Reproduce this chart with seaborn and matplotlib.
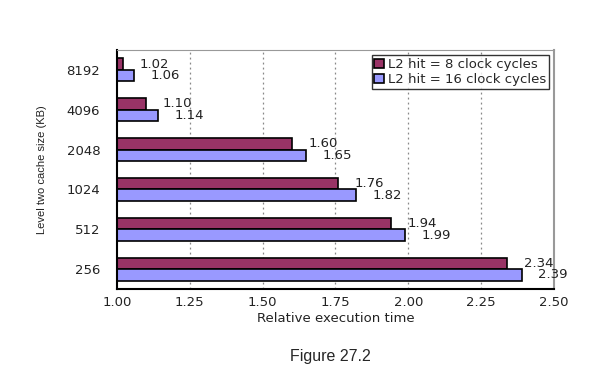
import pandas as pd
import matplotlib.pyplot as plt
import seaborn as sns

# data
cache_kb = ['8192', '4096', '2048', '1024', '512', '256']
hit_8 = [1.02, 1.10, 1.60, 1.76, 1.94, 2.34]
hit_16 = [1.06, 1.14, 1.65, 1.82, 1.99, 2.39]
series = ['L2 hit = 8 clock cycles', 'L2 hit = 16 clock cycles']
x_ticks = [1.00, 1.25, 1.50, 1.75, 2.00, 2.25, 2.50]

df = pd.DataFrame({
    'size': cache_kb * 2,
    'time': hit_8 + hit_16,
    'hit': [series[0]] * len(cache_kb) + [series[1]] * len(cache_kb),
})

sns.set_style('white')
plt.rcParams['font.family'] = ['DejaVu Sans']

fig = plt.figure(figsize=(6.12, 3.75), dpi=100)
ax = fig.add_axes([0.191, 0.229, 0.714, 0.638])

sns.barplot(data=df, x='time', y='size', hue='hit', order=cache_kb,
            hue_order=series, palette=['#993366', '#9999FF'], saturation=1,
            width=0.58, edgecolor='black', linewidth=1.2,
            orient='h', ax=ax)

for cont in ax.containers:
    ax.bar_label(cont, fmt='%.2f', padding=12, fontsize=9.5, color='#222222')

ax.set_xlim(1.0, 2.5)
ax.set_ylim(5.5, -0.5)
ax.set_xticks(x_ticks)
ax.set_xticklabels(['%.2f' % t for t in x_ticks], fontsize=9.5, color='#222222')
ax.tick_params(axis='x', direction='in', length=3, color='#555555', pad=5)
ax.set_yticks(range(len(cache_kb)))
ax.set_yticklabels(cache_kb, fontsize=9.5, color='#222222')
ax.tick_params(axis='y', which='major', length=0, pad=12)
ax.set_yticks([i - 0.5 for i in range(len(cache_kb) + 1)], minor=True)
ax.tick_params(axis='y', which='minor', length=7, color='#777777', width=1)

for t in x_ticks[1:-1]:
    ax.axvline(t, color='#888888', linestyle=(0, (1.5, 2.5)), linewidth=0.9, zorder=0)

ax.spines['left'].set_color('black')
ax.spines['left'].set_linewidth(1.5)
ax.spines['bottom'].set_color('black')
ax.spines['bottom'].set_linewidth(1.5)
ax.spines['top'].set_color('#999999')
ax.spines['right'].set_color('#999999')
ax.spines['right'].set_linewidth(1.5)

ax.set_xlabel('Relative execution time', fontsize=9.5, color='#222222', labelpad=2)
ax.set_ylabel('Level two cache size (KB)', fontsize=8, color='#222222',
              family=['Liberation Sans'], labelpad=14)

leg = ax.legend(loc='upper right', fontsize=9.5, frameon=True, fancybox=False,
                edgecolor='black', borderaxespad=0.4, handlelength=0.7,
                handleheight=0.7, handletextpad=0.3, borderpad=0.2,
                labelspacing=0.2)
leg.get_frame().set_linewidth(1.0)

fig.text(0.54, 0.048, 'Figure 27.2', ha='center', va='center', fontsize=11.5,
         family=['Liberation Sans'])

fig.savefig('out.png', dpi=100)
